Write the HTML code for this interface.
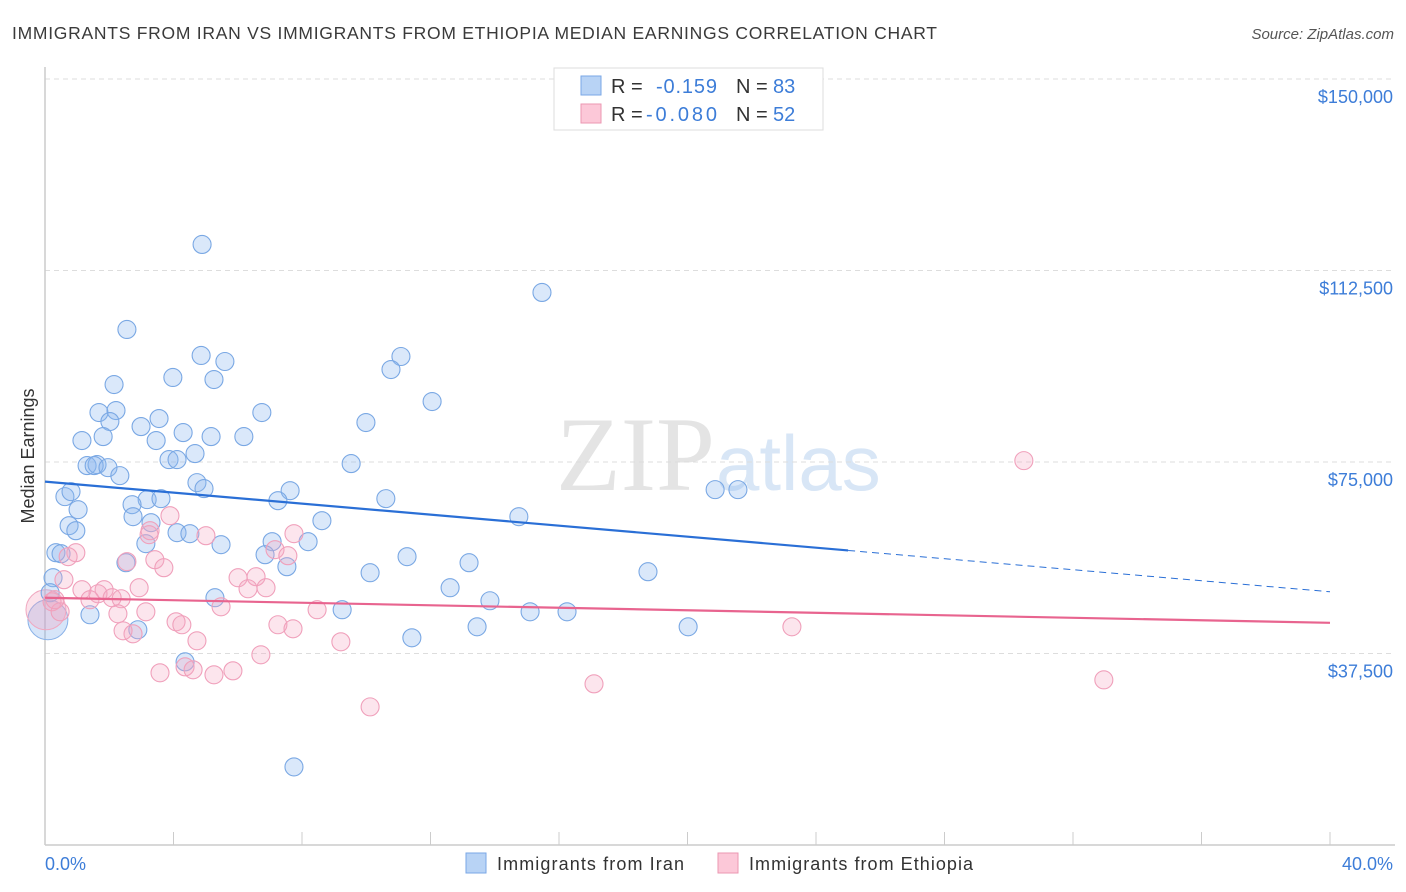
<!DOCTYPE html>
<html><head><meta charset="utf-8">
<style>
body{margin:0;background:#fff;font-family:"Liberation Sans",sans-serif;}
#wrap{position:relative;width:1406px;height:892px;overflow:hidden;}
</style></head>
<body>
<div id="wrap">
<svg id="chart" width="1406" height="892" style="position:absolute;left:0;top:0">
<text x="12" y="39" font-size="17.5" fill="#3a3a3a" textLength="925" lengthAdjust="spacing">IMMIGRANTS FROM IRAN VS IMMIGRANTS FROM ETHIOPIA MEDIAN EARNINGS CORRELATION CHART</text>
<text x="1394" y="39" font-size="15" fill="#555" font-style="italic" text-anchor="end">Source: ZipAtlas.com</text>
<text x="715" y="490" font-size="106" fill="#e4e4e4" text-anchor="end" font-family="Liberation Serif,serif">ZIP</text>
<text x="716" y="490" font-size="78" fill="#d8e6f6">atlas</text>
<text transform="translate(34,456) rotate(-90)" font-size="18" fill="#333" text-anchor="middle">Median Earnings</text>
<g id="grid"></g><g id="axes"></g><g id="marks"></g>
<g>
<rect x="554" y="68" width="269" height="62" fill="#fff" stroke="#ddd"/>
<rect x="581" y="76" width="20" height="19" fill="#b8d3f5" stroke="#7aa7e6"/>
<rect x="581" y="104" width="20" height="19" fill="#fcc8d8" stroke="#eb97b2"/>
<g font-size="20">
<text x="611" y="93" fill="#333">R =</text><text x="656" y="93" fill="#3d7dd8" textLength="61">-0.159</text>
<text x="736" y="93" fill="#333">N =</text><text x="773" y="93" fill="#3d7dd8">83</text></g>
<g font-size="20">
<text x="611" y="121" fill="#333">R =</text><text x="646" y="121" fill="#3d7dd8" textLength="71">-0.080</text>
<text x="736" y="121" fill="#333">N =</text><text x="773" y="121" fill="#3d7dd8">52</text></g>
</g>
<g>
<rect x="466" y="853" width="20" height="20" fill="#b8d3f5" stroke="#7aa7e6"/>
<text x="497" y="870" font-size="18" fill="#333" textLength="187">Immigrants from Iran</text>
<rect x="718" y="853" width="20" height="20" fill="#fcc8d8" stroke="#eb97b2"/>
<text x="749" y="870" font-size="18" fill="#333" textLength="224">Immigrants from Ethiopia</text>
</g>
</svg>
</div>
<script>
const yTicks=[37500,75000,112500,150000];
const yTickLabels=["$37,500","$75,000","$112,500","$150,000"];
const xTicks=[0,4,8,12,16,20,24,28,32,36,40];
const xEndLabels=["0.0%","40.0%"];
const iranX=[4.89,15.47,2.55,4.86,5.60,11.08,10.77,3.98,5.26,2.15,12.05,1.68,2.21,6.75,3.55,9.99,2.02,2.99,4.30,1.15,1.81,3.46,5.17,6.19,4.67,3.86,4.11,9.53,1.31,1.62,1.53,1.96,2.33,4.73,4.95,7.63,0.62,0.81,3.18,3.61,10.61,7.25,20.86,21.57,1.03,2.71,2.74,3.30,8.62,14.75,0.75,0.96,4.11,4.51,8.19,3.14,5.48,7.07,0.34,0.50,6.85,11.27,2.52,7.53,13.20,10.12,18.77,0.25,12.61,5.29,13.85,9.25,15.10,16.25,1.40,13.45,20.02,2.89,11.42,4.36,7.75,0.16];
const iranY=[117600,108200,100950,95860,94680,95660,93110,91550,91150,90170,86840,84690,85080,84690,83510,82730,82920,81940,80760,79200,79980,79200,79980,79980,76650,75470,75470,74690,74300,74490,74300,73900,72330,70960,69790,69390,68220,69200,67630,67830,67830,67430,69590,69590,65670,66650,64300,63120,63510,64300,62530,61550,61160,60970,59400,59010,58810,59400,57240,57040,56850,56460,55280,54500,55280,53320,53520,52340,50380,48420,47830,46070,45670,45670,45090,42730,42730,42150,40580,35870,15290,49400];
const ethX=[30.47,3.89,3.27,5.01,7.75,0.96,2.55,0.72,3.42,3.70,7.16,7.56,0.59,6.01,6.57,1.15,1.84,6.88,2.93,1.65,2.09,2.37,1.40,0.22,6.32,5.48,8.47,4.08,4.26,7.25,7.72,2.27,2.74,3.14,23.25,4.73,9.21,0.47,6.72,4.36,4.61,3.58,5.26,5.85,17.09,32.96,10.12,0.31,3.24,2.43];
const ethY=[75270,64490,61550,60570,60970,57240,55480,56460,55870,54300,57830,56650,51950,52340,52540,49990,49990,50380,50380,49200,48420,48220,48030,47630,50180,46650,46070,43710,43130,43130,42340,45280,41360,45670,42730,39990,39790,45670,37250,34890,34310,33720,33330,34110,31560,32340,27050,48030,60770,41950];
const bigX=[0.09,0.03];
const bigY=[44110,46070];
const iranTrend=[71160,49590];
const ethTrend=[48420,43510];
const iranSolidEnd=25;

const X0=45,X1=1330,Y0=845,YTOP=79;
const xs=v=>X0+(v/40)*(X1-X0);
const ys=v=>Y0-(v/150000)*(Y0-YTOP);
const NS="http://www.w3.org/2000/svg";
function mk(tag,attrs,parent){const e=document.createElementNS(NS,tag);for(const k in attrs)e.setAttribute(k,attrs[k]);parent.appendChild(e);return e;}
const grid=document.getElementById('grid'),axes=document.getElementById('axes'),marks=document.getElementById('marks');
yTicks.forEach((t,i)=>{
  const l=mk('line',{x1:X0,x2:1395,y1:ys(t),y2:ys(t),stroke:'#ddd','stroke-dasharray':'5,4'},grid);
  
  
  const tx=mk('text',{x:1393,y:ys(t)+24,'font-size':18,fill:'#3d7dd8','text-anchor':'end'},axes);
  tx.textContent=yTickLabels[i];
  
  
});
const ya=mk('line',{x1:X0,x2:X0,y1:67,y2:Y0,stroke:'#ccc','stroke-width':1.5},axes);


const xa=mk('line',{x1:X0,x2:1395,y1:Y0,y2:Y0,stroke:'#ccc','stroke-width':1.5},axes);


xTicks.forEach(t=>{
  const l=mk('line',{x1:xs(t),x2:xs(t),y1:832,y2:Y0,stroke:'#ccc'},axes);
  
  
});
const xl0=mk('text',{x:45,y:870,'font-size':18,fill:'#3d7dd8'},axes);xl0.textContent=xEndLabels[0];


const xl1=mk('text',{x:1393,y:870,'font-size':18,fill:'#3d7dd8','text-anchor':'end'},axes);xl1.textContent=xEndLabels[1];



bigX.forEach((v,i)=>{
  const c=mk('circle',{cx:xs(v),cy:ys(bigY[i]),r:20,fill:i?'rgba(246,160,190,0.3)':'rgba(120,170,235,0.3)',stroke:i?'#f0a8c0':'#8ab2e8'},marks);
  
  
});
iranX.forEach((v,i)=>{
  const c=mk('circle',{cx:xs(v),cy:ys(iranY[i]),r:9,fill:'rgba(140,185,238,0.32)',stroke:'#7aa8e4','stroke-width':1.1},marks);
  
  
});
ethX.forEach((v,i)=>{
  const c=mk('circle',{cx:xs(v),cy:ys(ethY[i]),r:9,fill:'rgba(246,170,196,0.3)',stroke:'#f0a0bb','stroke-width':1.1},marks);
  
  
});
const iy=x=>iranTrend[0]+(iranTrend[1]-iranTrend[0])*x/40;
const t1=mk('line',{x1:xs(0),y1:ys(iy(0)),x2:xs(iranSolidEnd),y2:ys(iy(iranSolidEnd)),stroke:'#2a6fd6','stroke-width':2.2},marks);


const t2=mk('line',{x1:xs(iranSolidEnd),y1:ys(iy(iranSolidEnd)),x2:xs(40),y2:ys(iy(40)),stroke:'#2a6fd6','stroke-width':1,'stroke-dasharray':'7,5'},marks);


const t3=mk('line',{x1:xs(0),y1:ys(ethTrend[0]),x2:xs(40),y2:ys(ethTrend[1]),stroke:'#e8648f','stroke-width':2.2},marks);


</script>
</body></html>
